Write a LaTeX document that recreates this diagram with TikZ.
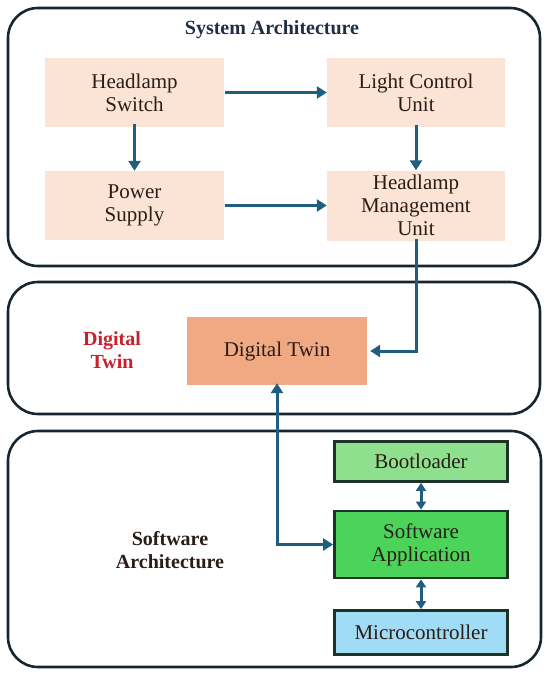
\documentclass[tikz,border=0pt]{standalone}
\usepackage{fontspec}
\setmainfont{Liberation Serif}
\usetikzlibrary{calc, positioning}
\usetikzlibrary{arrows.meta}

\definecolor{peach}{HTML}{FBE3D6}
\definecolor{twinfill}{HTML}{F1A983}
\definecolor{bootfill}{HTML}{8EE08E}
\definecolor{appfill}{HTML}{4CD35A}
\definecolor{mcufill}{HTML}{A0DCF6}
\definecolor{arrowblue}{HTML}{1F5E7E}
\definecolor{frame}{HTML}{17262E}
\definecolor{swframe}{HTML}{1C3328}
\definecolor{twinred}{HTML}{C8202C}
\definecolor{inktext}{HTML}{2A1C16}
\definecolor{navy}{HTML}{1F2D45}

\begin{document}
\begin{tikzpicture}[x=1pt, y=-1pt,
  every node/.style={font=\fontsize{21}{23}\selectfont, text=inktext},
  outer/.style={draw=frame, line width=2.6pt, rounded corners=30pt},
  block/.style={fill=peach, minimum width=179pt, minimum height=69pt,
    inner sep=0pt, align=center},
  swblock/.style={draw=swframe, line width=2.8pt,
    minimum width=173pt, inner sep=0pt, align=center},
  label/.style={font=\bfseries\fontsize{20}{23}\selectfont, align=center},
  flow/.style={draw=arrowblue, line width=3pt,
    -{Triangle[length=10pt, width=12pt]}},
  link/.style={draw=arrowblue, line width=3pt,
    {Triangle[length=8pt, width=10pt]}-{Triangle[length=8pt, width=10pt]}}]
\useasboundingbox (0,0) rectangle (550,677);

% three panels
\draw[outer] (8,8) rectangle (540,266);
\draw[outer] (8,282) rectangle (540,414);
\draw[outer] (8,431) rectangle (541,667);

% system architecture
\node[label, text=navy] (systitle) at (272,30) {System Architecture};
\node[block] (switch) at (134.5,92.5) {Headlamp\\Switch};
\node[block, minimum width=178pt] (lcu) at (416,92.5) {Light Control\\Unit};
\node[block] (power) at (134.5,205.5) {Power\\Supply};
\node[block, minimum width=178pt, minimum height=70pt] (hmu) at (416,205.5)
  {Headlamp\\Management\\Unit};

\draw[flow] ([xshift=1pt]switch.east) -- (lcu.west);
\draw[flow] ([yshift=3pt]switch.south) -- (power.north);
\draw[flow] ([yshift=2pt]lcu.south) -- (hmu.north);
\draw[flow] ([xshift=1pt]power.east) -- (hmu.west);

% digital twin
\node[label, text=twinred] (twinlabel) at (112,350) {Digital\\Twin};
\node[block, fill=twinfill, minimum width=180pt, minimum height=68pt] (twin)
  at (277,351) {Digital Twin};
\draw[flow] ([yshift=2pt]hmu.south) |- ([xshift=3pt]twin.east);

% software architecture
\node[label] (swtitle) at (170,550) {Software\\Architecture};
\node[swblock, fill=bootfill, minimum height=40pt] (boot) at (421,461.5)
  {Bootloader};
\node[swblock, fill=appfill, minimum height=67pt] (app) at (421,544.5)
  {Software\\Application};
\node[swblock, fill=mcufill, minimum height=44pt] (mcu) at (421,632.5)
  {Microcontroller};

\draw[link] (boot.south) -- (app.north);
\draw[link] (app.south) -- (mcu.north);
\draw[flow, {Triangle[length=10pt, width=12pt]}-{Triangle[length=10pt, width=12pt]}]
  ([yshift=2pt]twin.south) |- (app.west);
\end{tikzpicture}
\end{document}
